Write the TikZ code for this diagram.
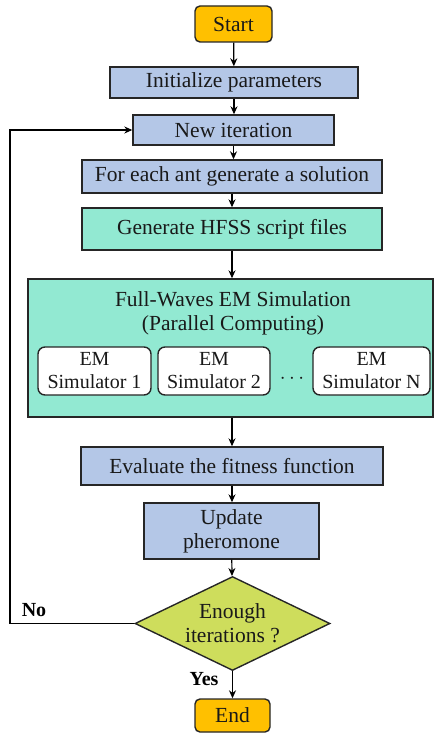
\documentclass[tikz,border=0pt]{standalone}
\usepackage{fontspec}
\setmainfont{Liberation Serif}
\newfontfamily\labelfont{Liberation Serif}
\usetikzlibrary{shapes.geometric,arrows.meta}
\definecolor{termfill}{RGB}{255,192,0}
\definecolor{procfill}{RGB}{180,199,231}
\definecolor{emfill}{RGB}{146,233,210}
\definecolor{decfill}{RGB}{206,221,92}
\tikzset{
  txt/.style={font=\labelfont\fontsize{21.5}{24}\selectfont, text=black!90},
  base/.style={draw=black!85, line width=1.4pt, align=center, inner sep=0pt, txt},
  term/.style={base, fill=termfill, rounded corners=5pt},
  proc/.style={base, fill=procfill},
  emproc/.style={base, fill=emfill},
  simbox/.style={base, fill=white, rounded corners=7pt, font=\labelfont\fontsize{20}{23}\selectfont},
  decision/.style={base, diamond, fill=decfill, aspect=2},
  flow/.style={line width=1.2pt, -{Stealth[length=8pt,width=7pt]}},
  answer/.style={font=\labelfont\bfseries\fontsize{20}{22}\selectfont, inner sep=0pt},
}
\begin{document}
\begin{tikzpicture}[x=1pt,y=-1pt]
\useasboundingbox (0,0) rectangle (435,735);

\node[term, minimum width=77pt, minimum height=36pt] (start) at (233.5,24) {Start};
\node[proc, minimum width=248pt, minimum height=31pt] (init) at (234,82.5) {Initialize parameters};
\node[proc, minimum width=201pt, minimum height=30pt] (newit) at (233.5,130) {New iteration};
\node[proc, minimum width=300pt, minimum height=33pt] (ant) at (232,176.5) {For each ant generate a solution};
\node[emproc, minimum width=300pt, minimum height=42pt] (hfss) at (232,229) {Generate HFSS script files};

% parallel simulation block
\node[emproc, minimum width=405pt, minimum height=138pt] (sim) at (230.5,348) {};
\node[txt, inner sep=0pt] (simtitle) at (233,299) {Full-Waves EM Simulation};
\node[txt, inner sep=0pt] (simsub) at (233,325) {(Parallel Computing)};
\node[simbox, minimum width=113pt, minimum height=48pt] (s1) at (94.5,371) {EM\\Simulator 1};
\node[simbox, minimum width=112pt, minimum height=48pt] (s2) at (214,371) {EM\\Simulator 2};
\node[txt, inner sep=0pt] (dots) at (292,379) {$\cdots$};
\node[simbox, minimum width=117pt, minimum height=48pt] (sn) at (371.5,371) {EM\\Simulator N};

\node[proc, minimum width=302pt, minimum height=38pt] (eval) at (232,466) {Evaluate the fitness function};
\node[proc, minimum width=175pt, minimum height=56pt] (upd) at (231.5,531) {Update\\pheromone};
\node[decision, minimum width=195pt, minimum height=94pt] (dec) at (232.5,623.5) {Enough\\iterations ?};
\node[term, minimum width=75pt, minimum height=33pt] (end) at (232.5,715.5) {End};

\coordinate (loopb) at (10,623.5);
\coordinate (loopt) at (10,130);

\draw[flow] (start) -- (init);
\draw[flow] (init) -- (init|-newit.north);
\draw[flow] (newit) -- (newit|-ant.north);
\draw[flow] (ant.south) -- (ant.south|-hfss.north);
\draw[flow] (hfss.south) -- (hfss.south|-sim.north);
\draw[flow] (sim.south-|hfss.south) -- (hfss.south|-eval.north);
\draw[flow] (eval.south) -- (eval.south|-upd.north);
\draw[flow] (upd) -- (dec);
\draw[flow] (dec) -- (end);
\draw[flow] (dec.west) -- (loopb) -- (loopt) -- (newit.west);

\node[answer] (no) at (34,610) {No};
\node[answer] (yes) at (204,679) {Yes};
\end{tikzpicture}
\end{document}
